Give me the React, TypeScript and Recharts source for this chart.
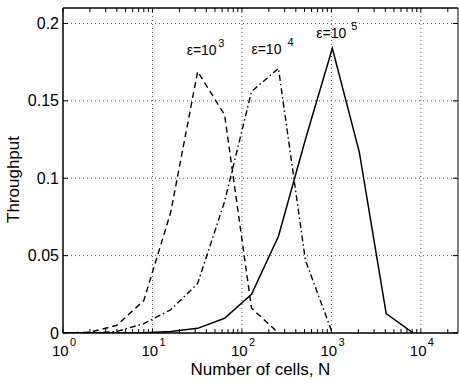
import React from 'react';
import { LineChart, Line, XAxis, YAxis, CartesianGrid, ReferenceLine, ReferenceDot } from 'recharts';

// ---- data ----
const cells = [1, 2, 4, 8, 16, 32, 64, 128, 256, 512, 1024, 2048, 4096, 8192];
const eps1e3: (number | null)[] = [0, 0.0005, 0.005, 0.021, 0.078, 0.169, 0.141, 0.016, 0, null, null, null, null, null];
const eps1e4: (number | null)[] = [0, 0, 0.001, 0.006, 0.015, 0.032, 0.085, 0.156, 0.171, 0.047, 0, null, null, null];
const eps1e5: (number | null)[] = [0, 0, 0, 0.0002, 0.001, 0.003, 0.0095, 0.025, 0.0625, 0.125, 0.184, 0.117, 0.0125, 0];

const majorTicks = [1, 10, 100, 1000, 10000];
const minorTicks = [
  2, 3, 4, 5, 6, 7, 8, 9,
  20, 30, 40, 50, 60, 70, 80, 90,
  200, 300, 400, 500, 600, 700, 800, 900,
  2000, 3000, 4000, 5000, 6000, 7000, 8000, 9000,
  20000,
];
const majorExponents = ['0', '1', '2', '3', '4'];
const yTicks = [0, 0.05, 0.1, 0.15, 0.2];
const yTickLabels = ['0', '0.05', '0.1', '0.15', '0.2'];

const annoN = [32, 256, 1024];
const annoY = [0.169, 0.171, 0.184];
const annoExp = ['3', '4', '5'];

const xDomain = [1, 26000];
const yDomain = [0, 0.21];

const data = cells.map((n, i) => ({ n, a: eps1e3[i], b: eps1e4[i], c: eps1e5[i] }));

// ---- layout / style ----
const W = 459;
const H = 384;
const M = { top: 8, right: 1, bottom: 0, left: 0 };
const Y_AXIS_W = 63;
const X_AXIS_H = 51;
const PLOT_TOP = M.top;
const PLOT_RIGHT = W - M.right;
const FONT = '"Liberation Sans", Arial, Helvetica, sans-serif';
const TICK_LEN = 4;

const annoStyle = [
  { dx: -11, dy: -16, gap: 1.5 },
  { dx: -27, dy: -14, gap: 6 },
  { dx: -16, dy: -10, gap: 5 },
];

const XTick = (props: any) => {
  const { x, y, payload } = props;
  const v = payload.value;
  const mi = majorTicks.indexOf(v);
  return (
    <g>
      <line x1={x} x2={x} y1={y} y2={y - TICK_LEN} stroke="#000" strokeWidth={1} />
      <line x1={x} x2={x} y1={PLOT_TOP} y2={PLOT_TOP + TICK_LEN} stroke="#000" strokeWidth={1} />
      {mi >= 0 && (
        <g fontFamily={FONT} fill="#000">
          <text x={x - 11} y={y + 23} fontSize={15} textAnchor="start">10</text>
          <text x={x + 7} y={y + 13} fontSize={11} textAnchor="start">{majorExponents[mi]}</text>
        </g>
      )}
    </g>
  );
};

const YTick = (props: any) => {
  const { x, y, payload } = props;
  const i = yTicks.indexOf(payload.value);
  return (
    <g>
      <line x1={x} x2={x + 5} y1={y} y2={y} stroke="#000" strokeWidth={1} />
      <line x1={PLOT_RIGHT} x2={PLOT_RIGHT - 5} y1={y} y2={y} stroke="#000" strokeWidth={1} />
      <text x={x - 4} y={y + 5.5} fontSize={16} fontFamily={FONT} fill="#000" textAnchor="end">
        {i >= 0 ? yTickLabels[i] : payload.value}
      </text>
    </g>
  );
};

const makeAnno = (i: number) => (props: any) => {
  const vb = props.viewBox || {};
  const cx = (vb.x || 0) + (vb.width || 0) / 2;
  const cy = (vb.y || 0) + (vb.height || 0) / 2;
  const s = annoStyle[i];
  return (
    <text x={cx + s.dx} y={cy + s.dy} fontSize={14} fontFamily={FONT} fill="#000">
      ε=10
      <tspan dx={s.gap} dy={-8.5} fontSize={11}>{annoExp[i]}</tspan>
    </text>
  );
};

export default function App() {
  return (
    <div style={{ position: 'absolute', left: 0, top: 0, width: W, height: H, background: '#fff' }}>
      <LineChart width={W} height={H} data={data} margin={M}>
        <CartesianGrid
          stroke="#555"
          strokeDasharray="1 3"
          verticalValues={[10, 100, 1000, 10000]}
          horizontalValues={[0.05, 0.1, 0.15, 0.2]}
        />
        <XAxis
          dataKey="n"
          type="number"
          scale="log"
          domain={xDomain}
          allowDataOverflow
          ticks={[...majorTicks, ...minorTicks]}
          interval={0}
          tick={<XTick />}
          tickLine={false}
          tickSize={0}
          tickMargin={0}
          height={X_AXIS_H}
          axisLine={{ stroke: '#000', strokeWidth: 1.5 }}
          label={{
            value: 'Number of cells, N',
            position: 'insideBottom',
            offset: 9,
            fontSize: 17,
            fontFamily: FONT,
            fill: '#000',
          }}
        />
        <YAxis
          type="number"
          domain={yDomain}
          allowDataOverflow
          ticks={yTicks}
          interval={0}
          tick={<YTick />}
          tickLine={false}
          tickSize={0}
          tickMargin={0}
          width={Y_AXIS_W}
          axisLine={{ stroke: '#000', strokeWidth: 1.5 }}
          label={{
            content: (p: any) => {
              const vb = p.viewBox || {};
              const cy = (vb.y || 0) + (vb.height || 0) / 2 + 9;
              return (
                <text
                  x={0}
                  y={0}
                  transform={`translate(${(vb.x || 0) + 19}, ${cy}) rotate(-90)`}
                  textAnchor="middle"
                  fontSize={17}
                  fontFamily={FONT}
                  fill="#000"
                >
                  Throughput
                </text>
              );
            },
          }}
        />
        <ReferenceLine y={yDomain[1]} stroke="#000" strokeWidth={1.5} ifOverflow="extendDomain" />
        <ReferenceLine x={xDomain[1]} stroke="#000" strokeWidth={1} ifOverflow="extendDomain" />
        <Line
          dataKey="a"
          stroke="#000"
          strokeWidth={1.4}
          strokeDasharray="6 4"
          dot={false}
          isAnimationActive={false}
        />
        <Line
          dataKey="b"
          stroke="#000"
          strokeWidth={1.4}
          strokeDasharray="6 3 1.5 3"
          dot={false}
          isAnimationActive={false}
        />
        <Line dataKey="c" stroke="#000" strokeWidth={1.5} dot={false} isAnimationActive={false} />
        {annoN.map((n, i) => (
          <ReferenceDot
            key={n}
            x={n}
            y={annoY[i]}
            r={0}
            fill="none"
            stroke="none"
            label={{ content: makeAnno(i) }}
          />
        ))}
      </LineChart>
    </div>
  );
}
